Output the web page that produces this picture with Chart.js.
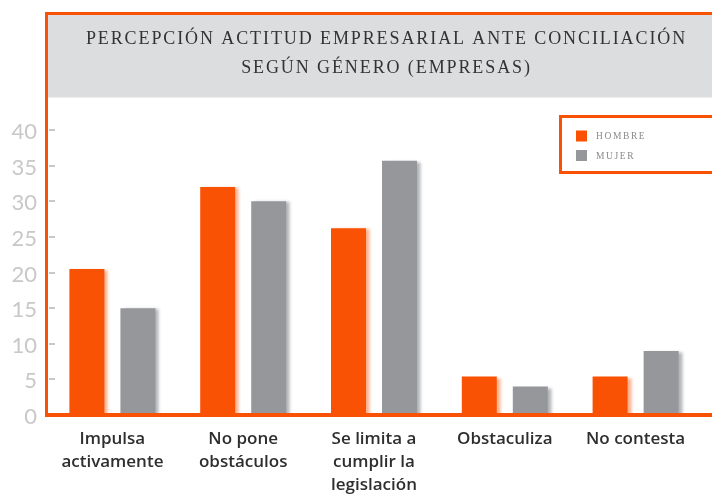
<!DOCTYPE html>
<html>
<head>
<meta charset="utf-8">
<script src="https://cdn.jsdelivr.net/npm/chart.js@4/dist/chart.umd.min.js"></script>
<style>
  html, body { margin: 0; padding: 0; background: #fff; }
  canvas { display: block; }
</style>
</head>
<body>
<canvas id="c" width="712" height="495"></canvas>
<script>
// ---- data ----
const categories = [
  ['Impulsa', 'activamente'],
  ['No pone', 'obstáculos'],
  ['Se limita a', 'cumplir la', 'legislación'],
  'Obstaculiza',
  'No contesta'
];
const seriesNames = ['Hombre', 'Mujer'];
const hombre = [20.5, 32, 26.2, 5.4, 5.4];
const mujer  = [15, 30, 35.7, 4, 9];
const yTicks = [0, 5, 10, 15, 20, 25, 30, 35, 40];
const titleLines = ['PERCEPCIÓN ACTITUD EMPRESARIAL ANTE CONCILIACIÓN', 'SEGÚN GÉNERO (EMPRESAS)'];

// ---- styles ----
const ORANGE = '#FA5205';
const GREY = '#96979B';
const HEADER = '#DCDDDF';
const TICKGREY = '#C8C8C8';

const decor = {
  id: 'decor',
  afterInit(chart) {
    const tb = chart.titleBlock;
    if (tb) {
      const orig = tb.draw.bind(tb);
      tb.draw = function (area) {
        const c = chart.ctx;
        c.save();
        c.letterSpacing = '1.9px';
        c.translate(36, 0);
        orig(area);
        c.restore();
      };
    }
  },
  beforeDraw(chart) {
    const c = chart.ctx, a = chart.chartArea;
    c.save();
    c.fillStyle = '#fff';
    c.fillRect(0, 0, chart.width, chart.height);
    c.fillStyle = HEADER;
    c.fillRect(a.left + 1, 15, chart.width - a.left, 82.5);
    c.fillStyle = ORANGE;
    c.fillRect(a.left - 2, 12, chart.width, 3);
    c.fillRect(a.left - 2, 12, 3, a.bottom + 2 - 12);
    c.restore();
  },
  beforeDatasetDraw(chart, args) {
    const c = chart.ctx;
    c.save();
    c.shadowColor = args.index === 0 ? 'rgba(250,82,5,0.45)' : 'rgba(105,107,112,0.5)';
    c.shadowOffsetX = 4;
    c.shadowOffsetY = 1;
    c.shadowBlur = 3;
  },
  afterDatasetDraw(chart) {
    chart.ctx.restore();
  },
  afterDatasetsDraw(chart) {
    const c = chart.ctx, a = chart.chartArea, ys = chart.scales.y;
    c.save();
    c.fillStyle = ORANGE;
    c.fillRect(a.left - 2, a.bottom - 2, chart.width, 4);
    c.fillStyle = TICKGREY;
    ys.ticks.forEach(t => {
      if (t.value === 0) return;
      const y = Math.round(ys.getPixelForValue(t.value));
      c.fillRect(a.left + 2, y - 1, 6, 2);
    });
    c.restore();
  },
  afterDraw(chart) {
    const c = chart.ctx;
    c.save();
    // legend box
    c.fillStyle = '#fff';
    c.fillRect(560.5, 116.5, 200, 56);
    c.strokeStyle = ORANGE;
    c.lineWidth = 3;
    c.strokeRect(560.5, 116.5, 200, 56);
    const ds = chart.data.datasets;
    const rows = [136, 155.5];
    ds.forEach((d, i) => {
      c.fillStyle = d.backgroundColor;
      c.fillRect(576, rows[i] - 5.5, 11, 11);
      c.fillStyle = '#8a8a8a';
      c.font = '9.5px "Liberation Serif"';
      c.letterSpacing = '1.6px';
      c.textBaseline = 'middle';
      c.textAlign = 'left';
      c.fillText(d.label.toUpperCase(), 596, rows[i] + 0.5);
    });
    c.restore();
  }
};

new Chart(document.getElementById('c'), {
  type: 'bar',
  data: {
    labels: categories,
    datasets: [
      { label: seriesNames[0], data: hombre, backgroundColor: ORANGE, borderWidth: 0 },
      { label: seriesNames[1], data: mujer, backgroundColor: GREY, borderWidth: 0 }
    ]
  },
  options: {
    responsive: false,
    animation: false,
    devicePixelRatio: 1,
    layout: { padding: { left: 0, right: 11, top: 0, bottom: 0 } },
    datasets: { bar: { categoryPercentage: 0.78, barPercentage: 0.686 } },
    plugins: {
      legend: { display: false },
      tooltip: { enabled: false },
      title: {
        display: true,
        text: titleLines,
        color: '#333333',
        font: { family: '"Liberation Serif", serif', size: 18, weight: 'normal', lineHeight: 29 / 18 },
        padding: { top: 25, bottom: 47 }
      }
    },
    scales: {
      x: {
        grid: { display: false },
        border: { display: false },
        ticks: {
          color: '#2e2e2e',
          padding: 5,
          maxRotation: 0,
          autoSkip: false,
          font: { family: '"Open Sans", sans-serif', size: 17, weight: '600', lineHeight: 1.35 }
        },
        afterFit(s) { s.height = 80; }
      },
      y: {
        min: 0,
        max: 40,
        grid: { display: false },
        border: { display: false },
        afterBuildTicks(s) { s.ticks = yTicks.map(v => ({ value: v })); },
        ticks: {
          color: TICKGREY,
          padding: 2,
          labelOffset: 2,
          font: { family: 'Lato, sans-serif', size: 22, weight: 'normal' }
        },
        afterFit(s) { s.width = 47; }
      }
    }
  },
  plugins: [decor]
});
</script>
</body>
</html>
